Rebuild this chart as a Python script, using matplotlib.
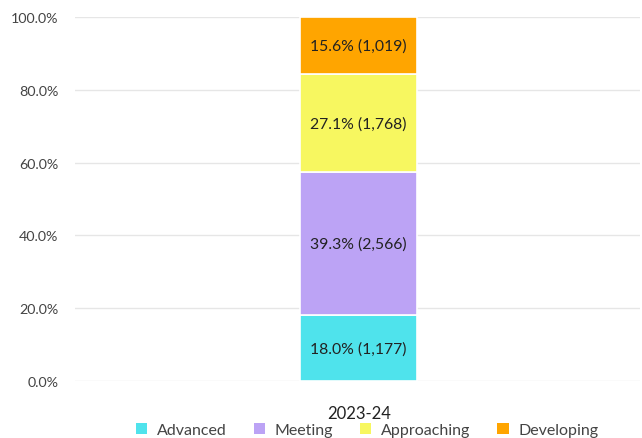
import matplotlib.pyplot as plt
from matplotlib.patches import Patch

plt.rcParams['font.family'] = ['Lato', 'DejaVu Sans']

# data
year = '2023-24'
levels = ['Advanced', 'Meeting', 'Approaching', 'Developing']
counts = [1177, 2566, 1768, 1019]
pcts = [18.0, 39.3, 27.1, 15.6]
colors = ['#4fe3ec', '#bca3f5', '#f7f760', '#ffa500']
yticks = [0, 20, 40, 60, 80, 100]

fig = plt.figure(figsize=(6.42, 4.39), dpi=100)
ax = fig.add_axes([75/642, 1 - 382/439, 565/642, 364/439])

bottom = 0
for lvl, c, p, col in zip(levels, counts, pcts, colors):
    ax.bar(0, p, width=0.207, bottom=bottom, color=col, edgecolor='white',
           linewidth=1.2, zorder=3)
    ax.text(0, bottom + p / 2, f'{p:.1f}% ({c:,})', ha='center', va='center',
            fontsize=11.3, color='#222222', zorder=4)
    bottom += p

ax.set_xlim(-0.502, 0.498)
ax.set_ylim(0, 100)
ax.set_yticks(yticks)
ax.set_yticklabels([f'{t:.1f}%' for t in yticks], fontsize=10.3, color='#444444')
ax.set_xticks([0])
ax.set_xticklabels([year], fontsize=12, color='#222222')
ax.tick_params(axis='y', length=0, pad=12)
ax.tick_params(axis='x', length=0, pad=17)
ax.grid(axis='y', color='#e6e6e6', linewidth=1, zorder=0)
for s in ax.spines.values():
    s.set_visible(False)

handles = [Patch(facecolor=col, label=lvl) for lvl, col in zip(levels, colors)]
fig.legend(handles=handles, loc='center', bbox_to_anchor=(0.572, 1 - 431/439),
           ncol=4, frameon=False, fontsize=11.5, handlelength=0.7, handleheight=0.7,
           columnspacing=1.7, handletextpad=0.6, labelcolor='#444444')

fig.savefig('out.png', dpi=100)
